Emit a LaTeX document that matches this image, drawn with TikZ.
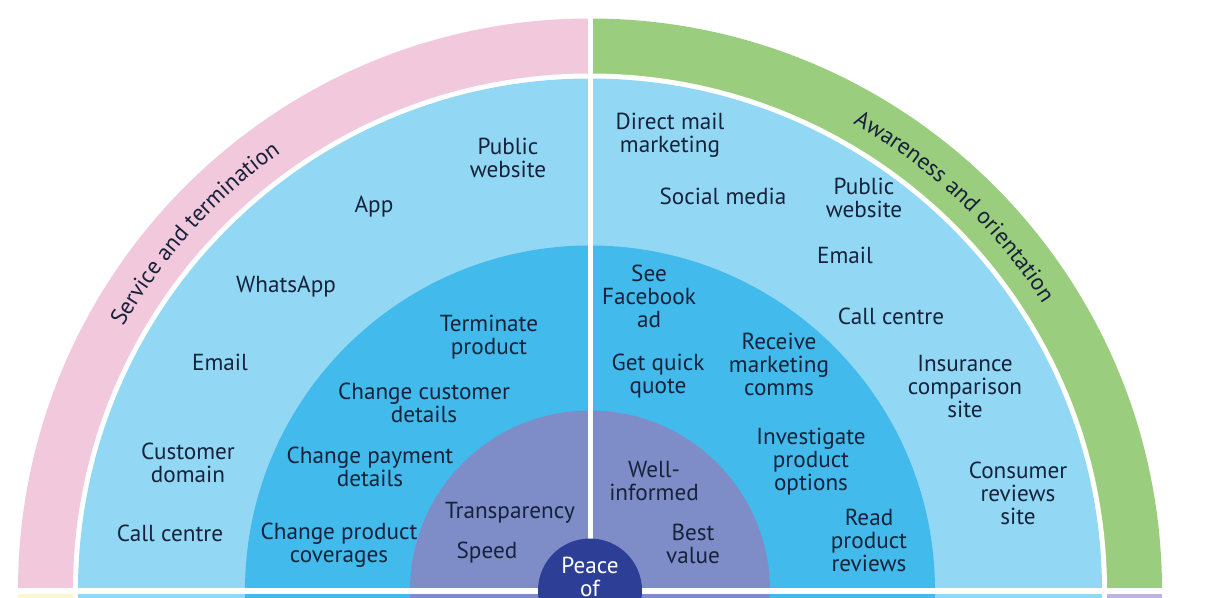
\documentclass[tikz,border=0pt]{standalone}
\usepackage{fontspec}
\setmainfont{PT Sans}
\usetikzlibrary{decorations.text,calc}
\definecolor{pinkband}{RGB}{242,200,221}
\definecolor{greenband}{RGB}{155,205,126}
\definecolor{yellowband}{RGB}{250,246,205}
\definecolor{lavband}{RGB}{190,180,228}
\definecolor{lightring}{RGB}{146,216,245}
\definecolor{midring}{RGB}{66,186,235}
\definecolor{purplering}{RGB}{126,141,200}
\definecolor{darkcore}{RGB}{45,62,150}
\definecolor{ink}{RGB}{22,34,58}
\begin{document}
\begin{tikzpicture}[x=0.5pt,y=0.5pt,
  lbl/.style={text=ink, font=\fontsize{11.6}{11.5}\selectfont, align=center, inner sep=0pt},
  divider/.style={white, line width=2.5pt}]
\useasboundingbox (0,0) rectangle (1216,-598);
\clip (0,0) rectangle (1216,-598);
\coordinate (C) at (590,-590.5);
% outer band quadrants
\fill[pinkband] (C) -- ($(C)+(180:572)$) arc[start angle=180,end angle=90,radius=572] -- cycle;
\fill[greenband] (C) -- ($(C)+(90:572)$) arc[start angle=90,end angle=0,radius=572] -- cycle;
\fill[lavband] (C) -- ($(C)+(0:572)$) arc[start angle=0,end angle=-90,radius=572] -- cycle;
\fill[yellowband] (C) -- ($(C)+(-90:572)$) arc[start angle=-90,end angle=-180,radius=572] -- cycle;
\fill[white] (C) circle[radius=517];
\fill[lightring] (C) circle[radius=512];
\fill[midring] (C) circle[radius=345];
\fill[purplering] (C) circle[radius=180];
% dividers
\coordinate (hl) at (0,-591);
\coordinate (hr) at (1216,-591);
\coordinate (vt) at (590,20);
\draw[divider, line width=3pt] (hl) -- (hr);
\draw[divider] (C) -- (vt);
% core
\fill[darkcore] (C) circle[radius=52];
\node[lbl, text=white] (peace) at (590,-577) {Peace\\of};
% band titles
\path[decorate, decoration={text along path, text align=center, text color=ink,
  text={|\fontsize{11.6}{12}\selectfont|Service and termination}}]
  ($(C)+(162.9:536)$) arc[start angle=162.9,end angle=112.9,radius=536];
\path[decorate, decoration={text along path, text align=center, text color=ink,
  text={|\fontsize{11.6}{12}\selectfont|Awareness and orientation}}]
  ($(C)+(73.5:536)$) arc[start angle=73.5,end angle=19.5,radius=536];
% left outer ring
\node[lbl] (lpub) at (508,-158) {Public\\website};
\node[lbl] (lapp) at (374,-207) {App};
\node[lbl] (lwa) at (286,-287) {WhatsApp};
\node[lbl] (lem) at (220,-362) {Email};
\node[lbl] (lcd) at (188,-463) {Customer\\domain};
\node[lbl] (lcc) at (170,-533) {Call centre};
% left middle ring
\node[lbl] (lterm) at (489,-337) {Terminate\\product};
\node[lbl] (lcust) at (424,-403) {Change customer\\details};
\node[lbl] (lpay) at (370,-467) {Change payment\\details};
\node[lbl] (lcov) at (339,-545) {Change product\\coverages};
% left inner
\node[lbl] (ltr) at (510,-513) {Transparency};
\node[lbl] (lsp) at (487,-553) {Speed};
% right outer ring
\node[lbl] (rdm) at (670,-135) {Direct mail\\marketing};
\node[lbl] (rsm) at (723,-196) {Social media};
\node[lbl] (rpub) at (864,-198) {Public\\website};
\node[lbl] (rem) at (845,-255) {Email};
\node[lbl] (rcc) at (891,-316) {Call centre};
\node[lbl] (rins) at (965,-387) {Insurance\\comparison\\site};
\node[lbl] (rcon) at (1018,-493) {Consumer\\reviews\\site};
% right middle ring
\node[lbl] (rfb) at (649,-296) {See\\Facebook\\ad};
\node[lbl] (rgq) at (658,-376) {Get quick\\quote};
\node[lbl] (rrm) at (779,-364) {Receive\\marketing\\comms};
\node[lbl] (rip) at (811,-462) {Investigate\\product\\options};
\node[lbl] (rrp) at (869,-540) {Read\\product\\reviews};
% right inner
\node[lbl] (rwi) at (654,-481) {Well-\\informed};
\node[lbl] (rbv) at (693,-544) {Best\\value};
\end{tikzpicture}
\end{document}
